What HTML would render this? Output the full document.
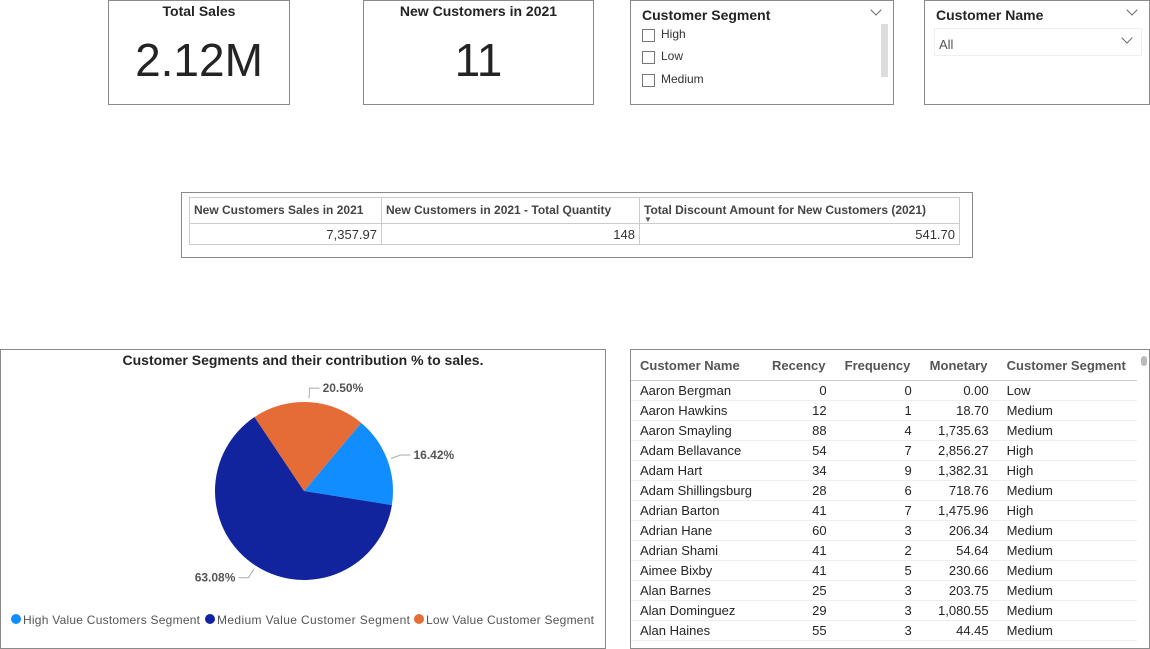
<!DOCTYPE html>
<html><head><meta charset="utf-8"><style>
body{margin:0;width:1150px;height:645px;background:#fff;position:relative;overflow:hidden;font-family:"Liberation Sans",sans-serif;}
.box{position:absolute;border:1px solid #8a8a8a;box-sizing:border-box;background:#fff}
.card-t{position:absolute;top:2px;left:0;right:0;text-align:center;font-weight:bold;font-size:14px;color:#252423}
.card-v{position:absolute;top:32px;left:0;right:0;text-align:center;font-size:46px;color:#252423}
.sl-t{position:absolute;left:11px;top:6px;font-weight:bold;font-size:14px;color:#252423}
.chev{position:absolute;width:7px;height:7px;border-right:1px solid #666;border-bottom:1px solid #666;transform:rotate(45deg)}
.cb{position:absolute;left:11px;width:11px;height:11px;border:1px solid #777}
.cbl{position:absolute;left:30px;font-size:12px;color:#333}
table{border-collapse:collapse}
.kt{table-layout:fixed;border-top:1px solid #ccc;border-left:1px solid #ccc}
.kt th{font-size:12px;color:#444;font-weight:bold;text-align:left;padding:0 4px;height:26px;border-right:1px solid #ccc;border-bottom:1px solid #ccc;vertical-align:top;padding-top:5px;white-space:nowrap;overflow:hidden;box-sizing:border-box}
.kt td{font-size:13px;color:#333;text-align:right;padding:0 4px;height:20px;border-right:1px solid #ccc;border-bottom:1px solid #ccc}
.rt th{font-size:13px;color:#555;font-weight:bold;text-align:left;height:30px;border-bottom:1px solid #ccc;padding:0 9px;white-space:nowrap}
.rt td{font-size:13px;color:#252423;height:19px;line-height:19px;border-bottom:1px solid #eee;padding:0 9px;white-space:nowrap}
.rt td.n{text-align:right}
</style></head><body>
<div class="box" style="left:108px;top:0;width:182px;height:105px"><div class="card-t">Total Sales</div><div class="card-v">2.12M</div></div>
<div class="box" style="left:363px;top:0;width:231px;height:105px"><div class="card-t">New Customers in 2021</div><div class="card-v">11</div></div>
<div class="box" style="left:630px;top:0;width:264px;height:105px">
<div class="sl-t">Customer Segment</div><div class="chev" style="left:241px;top:5px"></div>
<div style="position:absolute;left:250px;top:23px;width:7px;height:53px;background:#ddd"></div>
<div class="cb" style="top:28px"></div><div class="cbl" style="top:26px">High</div>
<div class="cb" style="top:50px"></div><div class="cbl" style="top:48px">Low</div>
<div class="cb" style="top:73px"></div><div class="cbl" style="top:71px">Medium</div>
</div>
<div class="box" style="left:924px;top:0;width:226px;height:105px">
<div class="sl-t">Customer Name</div><div class="chev" style="left:203px;top:5px"></div>
<div style="position:absolute;left:9px;top:27px;width:206px;height:26px;border:1px solid #eee"><span style="position:absolute;left:4px;top:8px;font-size:13px;color:#555">All</span><div class="chev" style="left:188px;top:5px"></div></div>
</div>
<div class="box" style="left:181px;top:192px;width:792px;height:66px">
<table class="kt" style="position:absolute;left:7px;top:4px;width:770px">
<colgroup><col style="width:192px"><col style="width:258px"><col style="width:320px"></colgroup>
<tr><th>New Customers Sales in 2021</th><th>New Customers in 2021 - Total Quantity</th><th>Total Discount Amount for New Customers (2021)<div style="font-size:8px;line-height:6px;color:#555">▼</div></th></tr>
<tr><td>7,357.97</td><td>148</td><td>541.70</td></tr></table></div>
<div class="box" style="left:0;top:349px;width:606px;height:300px">
<div style="position:absolute;top:2px;left:0;right:0;text-align:center;font-weight:bold;font-size:14px;color:#252423">Customer Segments and their contribution % to sales.</div>
<svg id="pie" width="606" height="300" style="position:absolute;left:-1px;top:-1px"></svg>
</div>
<div class="box" style="left:630px;top:349px;width:520px;height:300px">
<table class="rt" style="position:absolute;left:0;top:0;width:506px">
<tr><th>Customer Name</th><th>Recency</th><th>Frequency</th><th>Monetary</th><th>Customer Segment</th></tr>
<tbody id="rb"></tbody></table>
<div style="position:absolute;right:2px;top:6px;width:6px;height:10px;background:#bbb;border-radius:3px"></div>
</div>
<script>
const segments=["High Value Customers Segment","Medium Value Customer Segment","Low Value Customer Segment"];
const shares=[16.42,63.08,20.50];
const colors=["#118DFF","#12239E","#E66C37"];
const svg=document.getElementById('pie');const NS="http://www.w3.org/2000/svg";
const cx=304,cy=142,r=89,start=40;
function pt(a,rr){const t=(a-90)*Math.PI/180;return [cx+rr*Math.cos(t),cy+rr*Math.sin(t)];}
const total=shares.reduce((a,b)=>a+b,0);let a0=start;
shares.forEach((v,i)=>{const a1=a0+v/total*360;const p0=pt(a0,r),p1=pt(a1,r);
const p=document.createElementNS(NS,'path');
p.setAttribute('d',`M${cx},${cy}L${p0[0]},${p0[1]}A${r},${r} 0 ${a1-a0>180?1:0} 1 ${p1[0]},${p1[1]}Z`);
p.setAttribute('fill',colors[i]);


svg.appendChild(p);
const m=(a0+a1)/2;const e=pt(m,r+4),o=pt(m,r+14);const right=Math.sin(m*Math.PI/180)>=0;
const ex=o[0]+(right?10:-10);
const l=document.createElementNS(NS,'polyline');l.setAttribute('points',`${e[0]},${e[1]} ${o[0]},${o[1]} ${ex},${o[1]}`);l.setAttribute('fill','none');l.setAttribute('stroke','#aaa');


svg.appendChild(l);
const t=document.createElementNS(NS,'text');t.setAttribute('x',ex+(right?3:-3));t.setAttribute('y',o[1]+4);t.setAttribute('text-anchor',right?'start':'end');t.setAttribute('font-size','12');t.setAttribute('font-weight','bold');t.setAttribute('fill','#555');t.setAttribute('font-family','Liberation Sans');t.textContent=v.toFixed(2)+'%';


svg.appendChild(t);a0=a1;});
let lx=11;segments.forEach((s,i)=>{const c=document.createElementNS(NS,'circle');c.setAttribute('cx',lx+5);c.setAttribute('cy',270);c.setAttribute('r',5);c.setAttribute('fill',colors[i]);


svg.appendChild(c);
const t=document.createElementNS(NS,'text');t.setAttribute('x',lx+12);t.setAttribute('y',275);t.setAttribute('font-size','12');t.setAttribute('fill','#555');t.setAttribute('font-family','Liberation Sans');t.setAttribute('textLength',[177,193,168][i]);t.textContent=s;


svg.appendChild(t);lx+=[194,209,190][i];});
const names=["Aaron Bergman","Aaron Hawkins","Aaron Smayling","Adam Bellavance","Adam Hart","Adam Shillingsburg","Adrian Barton","Adrian Hane","Adrian Shami","Aimee Bixby","Alan Barnes","Alan Dominguez","Alan Haines"];
const recency=[0,12,88,54,34,28,41,60,41,41,25,29,55];
const frequency=[0,1,4,7,9,6,7,3,2,5,3,3,3];
const monetary=["0.00","18.70","1,735.63","2,856.27","1,382.31","718.76","1,475.96","206.34","54.64","230.66","203.75","1,080.55","44.45"];
const seg=["Low","Medium","Medium","High","High","Medium","High","Medium","Medium","Medium","Medium","Medium","Medium"];
const rb=document.getElementById('rb');
names.forEach((n,i)=>{const tr=document.createElement('tr');


tr.innerHTML=`<td>${n}</td><td class="n">${recency[i]}</td><td class="n">${frequency[i]}</td><td class="n">${monetary[i]}</td><td>${seg[i]}</td>`;rb.appendChild(tr);});
</script>
</body></html>
